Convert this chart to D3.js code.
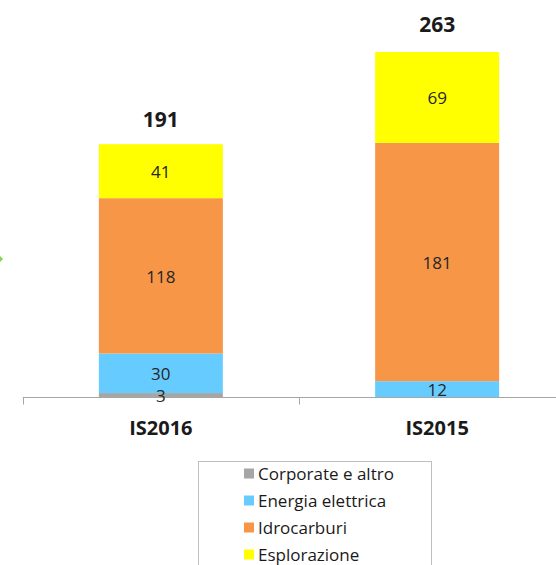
<!DOCTYPE html>
<html>
<head>
<meta charset="utf-8">
<script src="https://cdn.jsdelivr.net/npm/d3@7"></script>
<style>
  html, body { margin: 0; padding: 0; background: #fff; }
  svg { display: block; }
</style>
</head>
<body>
<svg id="chart" width="556" height="565"></svg>
<script>
const categories = ["IS2016", "IS2015"];
const seriesNames = ["Corporate e altro", "Energia elettrica", "Idrocarburi", "Esplorazione"];
const corporate = [3, 0];
const energia = [30, 12];
const idrocarburi = [118, 181];
const esplorazione = [41, 69];
const totals = [191, 263];
const colors = ["#a6a6a6", "#66ccff", "#f79646", "#ffff00"];

const svg = d3.select("#chart");
const font = "'Open Sans', 'DejaVu Sans', sans-serif";

const baseY = 397;
const x = d3.scaleBand().domain(categories).range([22.7, 575.3]).paddingInner(0).paddingOuter(0);
const y = d3.scaleLinear().domain([0, 263]).range([baseY, 50.7]);
const barW = 124;

const rows = categories.map((c, i) => ({
  cat: c,
  "Corporate e altro": corporate[i],
  "Energia elettrica": energia[i],
  "Idrocarburi": idrocarburi[i],
  "Esplorazione": esplorazione[i]
}));
const stack = d3.stack().keys(seriesNames)(rows);

// Axis ticks
const axisG = svg.append("g").attr("transform", `translate(0,${baseY + 0.5})`);
const tickPos = [x.range()[0], x.range()[0] + x.bandwidth()];
axisG.selectAll("line.tick").data(tickPos).enter().append("line")
  .attr("class", "tick")
  .attr("x1", d => Math.round(d) + 0.5).attr("x2", d => Math.round(d) + 0.5)
  .attr("y1", 0).attr("y2", 7)
  .attr("stroke", "#a6a6a6").attr("stroke-width", 1);

// Bars
const layers = svg.selectAll("g.layer").data(stack).enter().append("g")
  .attr("class", "layer").attr("fill", (d, i) => colors[i]);
layers.selectAll("rect").data(d => d.filter(s => s[1] - s[0] > 0)).enter().append("rect")
  .attr("x", d => x(d.data.cat) + x.bandwidth() / 2 - barW / 2)
  .attr("width", barW)
  .attr("y", d => y(d[1]))
  .attr("height", d => y(d[0]) - y(d[1]));

// Axis line
svg.append("line").attr("x1", 22.7).attr("x2", 556).attr("y1", baseY + 0.5).attr("y2", baseY + 0.5)
  .attr("stroke", "#a6a6a6").attr("stroke-width", 1);

// Value labels
stack.forEach((layer) => {
  svg.append("g").selectAll("text").data(layer.filter(s => s[1] - s[0] > 0)).enter().append("text")
    .attr("x", d => x(d.data.cat) + x.bandwidth() / 2)
    .attr("y", d => (y(d[0]) + y(d[1])) / 2 + 7)
    .attr("text-anchor", "middle")
    .attr("font-family", font).attr("font-size", 17)
    .attr("fill", "#262626")
    .text(d => d[1] - d[0]);
});

// Totals
svg.append("g").selectAll("text").data(categories).enter().append("text")
  .attr("x", c => x(c) + x.bandwidth() / 2)
  .attr("y", (c, i) => y(totals[i]) - 19)
  .attr("text-anchor", "middle")
  .attr("font-family", font).attr("font-size", 21).attr("font-weight", "bold")
  .attr("fill", "#1a1a1a")
  .text((c, i) => totals[i]);

// Category labels
svg.append("g").selectAll("text").data(categories).enter().append("text")
  .attr("x", c => x(c) + x.bandwidth() / 2)
  .attr("y", 435)
  .attr("text-anchor", "middle")
  .attr("font-family", font).attr("font-size", 20).attr("font-weight", "bold")
  .attr("fill", "#1a1a1a")
  .text(c => c);

// Legend
const legend = svg.append("g");
legend.append("rect").attr("x", 198.5).attr("y", 461.5).attr("width", 233).attr("height", 120)
  .attr("fill", "#fff").attr("stroke", "#bfbfbf").attr("stroke-width", 1);
const items = legend.selectAll("g.item").data(seriesNames).enter().append("g")
  .attr("class", "item")
  .attr("transform", (d, i) => `translate(0,${473.5 + i * 27})`);
items.append("rect").attr("x", 244).attr("y", -5).attr("width", 10).attr("height", 10)
  .attr("fill", (d, i) => colors[i]);
items.append("text").attr("x", 258).attr("y", 6)
  .attr("font-family", font).attr("font-size", 17).attr("fill", "#1a1a1a")
  .text(d => d);

// small green artifact at left edge
svg.append("path").attr("d", "M0,256 L3,259 L0,262 Z").attr("fill", "#7fd84a");
</script>
</body>
</html>
